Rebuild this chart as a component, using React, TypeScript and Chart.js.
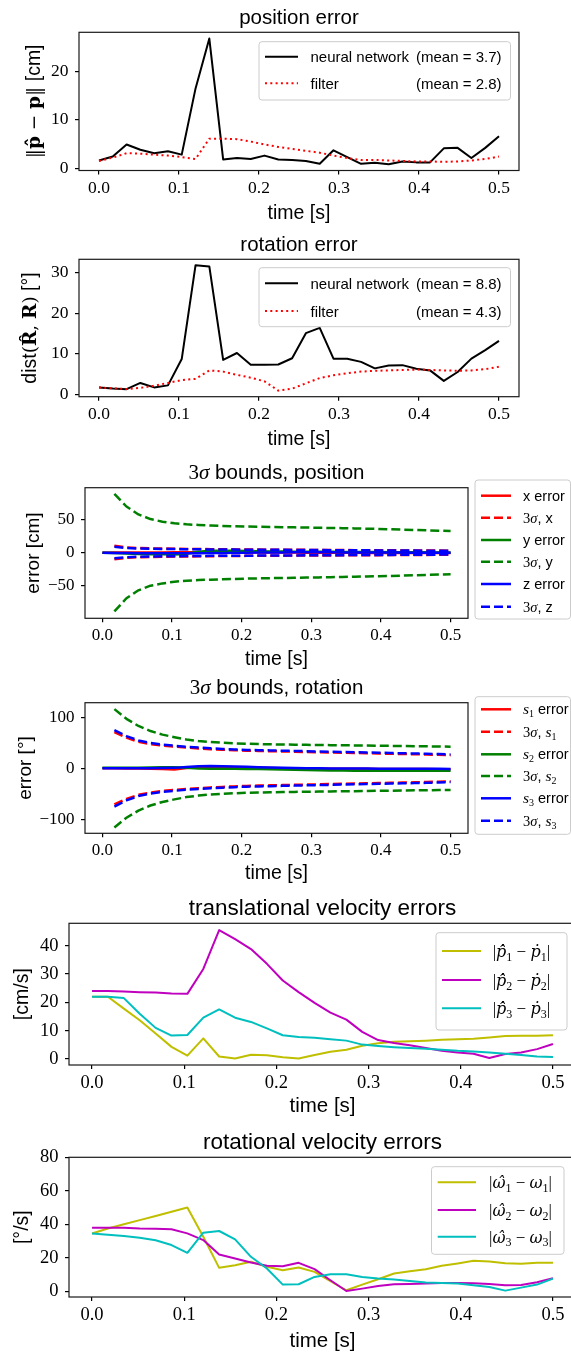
import React, { useEffect, useRef } from 'react';
import Chart from 'chart.js/auto';

// ---------------- data ----------------
const TIME = [0, 0.0172, 0.0345, 0.0517, 0.069, 0.0862, 0.1034, 0.1207, 0.1379, 0.1552, 0.1724, 0.1897, 0.2069, 0.2241, 0.2414, 0.2586, 0.2759, 0.2931, 0.3103, 0.3276, 0.3448, 0.3621, 0.3793, 0.3966, 0.4138, 0.431, 0.4483, 0.4655, 0.4828, 0.5];
const X_TICKS = [0, 0.1, 0.2, 0.3, 0.4, 0.5];

const POS_NN = [1.6, 2.4, 4.9, 3.8, 3.1, 3.5, 2.8, 16.5, 26.8, 1.8, 2.1, 1.9, 2.6, 1.8, 1.7, 1.5, 0.9, 3.7, 2.3, 0.9, 1.1, 0.8, 1.4, 1.2, 1.2, 4.1, 4.2, 2.1, 4.2, 6.6];
const POS_FILTER = [1.5, 2.2, 3.1, 3.0, 2.8, 2.6, 2.3, 1.9, 6.1, 6.1, 6.0, 5.5, 4.9, 4.4, 4.0, 3.6, 3.2, 2.6, 2.1, 1.7, 1.7, 1.6, 1.5, 1.4, 1.4, 1.3, 1.4, 1.6, 1.9, 2.4];
const POS_MEANS = ['3.7', '2.8'];
const POS_Y_TICKS = [0, 10, 20];

const ROT_NN = [1.65, 1.4, 1.25, 2.8, 1.7, 2.2, 8.7, 31.9, 31.6, 8.5, 10.2, 7.3, 7.3, 7.35, 8.9, 15.1, 16.4, 8.8, 8.8, 8.0, 6.4, 7.1, 7.2, 6.3, 5.9, 3.3, 5.5, 8.8, 10.9, 13.2];
const ROT_FILTER = [1.7, 1.45, 1.3, 1.6, 2.1, 2.8, 3.5, 3.8, 5.9, 5.6, 4.8, 4.1, 3.2, 0.9, 1.4, 2.7, 4.0, 4.7, 5.2, 5.6, 5.8, 5.9, 6.0, 6.1, 6.0, 5.9, 5.8, 5.9, 6.2, 6.8];
const ROT_MEANS = ['8.8', '4.3'];
const ROT_Y_TICKS = [0, 10, 20, 30];

const METHOD_LABELS = ['neural network', 'filter'];

// 3-sigma position (errors on all 30 steps, bounds from step 1)
const POS_ERR_X = [0, 0.2, 0.3, 0.3, 0.4, 0.4, 0.5, 0.5, 0.6, 0.6, 0.6, 0.5, 0.5, 0.4, 0.4, 0.3, 0.2, 0.1, 0.0, -0.1, -0.2, -0.2, -0.3, -0.3, -0.4, -0.4, -0.5, -0.5, -0.6, -0.6];
const POS_ERR_Y = [0, -0.6, -1.2, -1.8, -2.2, -2.5, -2.6, -1.5, 1.5, 2.8, 3.0, 2.8, 2.5, 2.2, 2.0, 1.8, 1.6, 1.5, 1.4, 1.3, 1.2, 1.1, 1.0, 0.9, 0.8, 0.7, 0.6, 0.5, 0.4, 0.3];
const POS_ERR_Z = [0, -0.3, -0.5, -0.7, -0.8, -0.9, -1.0, -0.9, -0.7, -0.5, -0.3, -0.1, 0.0, 0.2, 0.3, 0.4, 0.5, 0.5, 0.5, 0.5, 0.4, 0.4, 0.3, 0.3, 0.2, 0.2, 0.1, 0.1, 0.0, 0.0];
const POS_3S_X_UP = [10.5, 8.0, 7.0, 6.6, 6.3, 6.0, 5.8, 5.6, 5.4, 5.2, 5.0, 4.9, 4.7, 4.6, 4.5, 4.4, 4.3, 4.2, 4.1, 4.0, 3.9, 3.8, 3.7, 3.6, 3.5, 3.4, 3.3, 3.2, 3.1];
const POS_3S_X_LO = [-10.0, -7.8, -6.9, -6.5, -6.2, -5.9, -5.7, -5.5, -5.3, -5.1, -5.0, -4.8, -4.7, -4.6, -4.5, -4.4, -4.3, -4.2, -4.1, -4.0, -3.9, -3.8, -3.7, -3.6, -3.5, -3.4, -3.3, -3.2, -3.1];
const POS_3S_Y_UP = [89, 70, 58, 51, 47, 44.5, 43, 42, 41.2, 40.6, 40.1, 39.7, 39.3, 39, 38.7, 38.4, 38.1, 37.8, 37.5, 37.2, 36.8, 36.4, 36, 35.5, 35, 34.5, 34, 33.4, 32.8];
const POS_3S_Y_LO = [-89, -69, -57, -50, -46.5, -44, -42.5, -41.5, -40.8, -40.2, -39.7, -39.3, -38.9, -38.6, -38.3, -38, -37.7, -37.4, -37.1, -36.8, -36.4, -36, -35.6, -35.2, -34.7, -34.2, -33.7, -33.2, -32.6];
const POS_3S_Z_UP = [9.0, 7.0, 6.3, 6.0, 5.7, 5.5, 5.3, 5.1, 4.9, 4.8, 4.7, 4.6, 4.5, 4.4, 4.3, 4.2, 4.1, 4.0, 3.9, 3.8, 3.7, 3.6, 3.5, 3.4, 3.3, 3.2, 3.1, 3.0, 2.9];
const POS_3S_Z_LO = [-8.5, -6.8, -6.1, -5.8, -5.5, -5.3, -5.1, -4.9, -4.8, -4.7, -4.6, -4.5, -4.4, -4.3, -4.2, -4.1, -4.0, -3.9, -3.8, -3.7, -3.6, -3.5, -3.4, -3.3, -3.2, -3.1, -3.0, -2.9, -2.8];
const POSB_Y_TICKS = [-50, 0, 50];

// 3-sigma rotation
const ROT_ERR_S1 = [0, 0, -0.3, -0.6, -1.0, -1.5, -2.2, 0.5, 2.0, 2.5, 2.3, 2.0, 1.5, 1.0, 0.5, 0.2, 0, -0.3, -0.5, -0.7, -0.9, -1.0, -1.1, -1.2, -1.3, -1.4, -1.5, -1.6, -1.7, -1.8];
const ROT_ERR_S2 = [1.0, 1.0, 1.0, 1.2, 1.5, 1.8, 2.0, 1.0, -0.5, -1.0, -1.0, -1.0, -1.2, -1.5, -2.0, -2.5, -3.0, -3.5, -4.0, -4.3, -4.5, -4.7, -4.8, -4.9, -5.0, -5.0, -5.0, -5.0, -5.0, -5.0];
const ROT_ERR_S3 = [0, 0, 0, 0, 0.2, 0.5, 0.8, 2.5, 4.0, 4.5, 4.0, 3.5, 2.8, 2.0, 1.5, 1.0, 0.6, 0.3, 0, -0.2, -0.4, -0.5, -0.6, -0.7, -0.8, -0.9, -1.0, -1.0, -1.1, -1.2];
const ROT_3S_S1_UP = [71, 60, 52, 47.5, 44.5, 42.5, 40.5, 39, 37.5, 36.5, 35.5, 34.5, 34, 33.5, 33, 32.5, 32, 31.5, 31, 30.5, 30, 29.5, 29, 28.5, 28, 27.5, 27, 26.3, 25.5];
const ROT_3S_S1_LO = [-71, -60, -52, -47.5, -44.5, -42.5, -40.5, -39, -37.5, -36.5, -35.5, -34.5, -34, -33.5, -33, -32.5, -32, -31.5, -31, -30.5, -30, -29.5, -29, -28.5, -28, -27.5, -27, -26.3, -25.5];
const ROT_3S_S2_UP = [116, 97, 83, 73, 66, 61, 56.5, 53.5, 51.5, 50, 49, 48, 47.5, 47, 46.6, 46.3, 46, 45.7, 45.4, 45.1, 44.8, 44.5, 44.2, 43.9, 43.6, 43.3, 43, 42.7, 42.4];
const ROT_3S_S2_LO = [-116, -97, -83, -73, -66, -61, -56.5, -53.5, -51.5, -50, -49, -48, -47.5, -47, -46.6, -46.3, -46, -45.7, -45.4, -45.1, -44.8, -44.5, -44.2, -43.9, -43.6, -43.3, -43, -42.7, -42.4];
const ROT_3S_S3_UP = [75, 63, 54.5, 49.5, 46.3, 44.2, 42.2, 40.6, 39.1, 38, 37, 36, 35.5, 35, 34.5, 34, 33.5, 33, 32.5, 32, 31.5, 31, 30.5, 30, 29.5, 29, 28.5, 27.8, 27];
const ROT_3S_S3_LO = [-75, -63, -54.5, -49.5, -46.3, -44.2, -42.2, -40.6, -39.1, -38, -37, -36, -35.5, -35, -34.5, -34, -33.5, -33, -32.5, -32, -31.5, -31, -30.5, -30, -29.5, -29, -28.5, -27.8, -27];
const ROTB_Y_TICKS = [-100, 0, 100];

// velocity errors
const TV_P1 = [22, 22, 17.8, 13.7, 9.0, 4.3, 1.2, 7.3, 0.9, 0.2, 1.5, 1.3, 0.6, 0.2, 1.4, 2.6, 3.3, 4.7, 5.6, 6.1, 6.3, 6.5, 6.8, 7.0, 7.2, 7.6, 8.1, 8.2, 8.2, 8.4];
const TV_P2 = [24, 24, 23.8, 23.6, 23.5, 23.1, 23.0, 31.8, 45.5, 42.3, 38.8, 33.6, 27.7, 23.6, 19.8, 16.4, 13.9, 9.6, 6.7, 5.7, 4.9, 3.9, 2.9, 2.3, 1.9, 0.35, 1.8, 2.3, 3.5, 5.3];
const TV_P3 = [22, 22, 21.5, 16, 11, 8.3, 8.5, 14.6, 17.5, 14.6, 13.1, 10.8, 8.4, 7.8, 7.5, 7.0, 6.5, 5.1, 4.6, 4.2, 3.9, 3.6, 3.3, 2.9, 2.7, 2.3, 1.9, 1.4, 0.9, 0.7];
const TV_Y_TICKS = [0, 10, 20, 30, 40];

const RV_W1 = [34.5, 37.5, 40, 42.5, 45, 47.5, 50, 32.6, 14, 15.6, 17.6, 14.6, 12.6, 14.2, 11.6, 6, 0.6, 4, 7.2, 10.6, 12, 13.2, 15.2, 16.6, 18.2, 17.8, 16.8, 16.4, 17, 17];
const RV_W2 = [38, 38, 38, 37.5, 37.3, 37, 34.6, 30.6, 22, 19.6, 17.2, 15.2, 15, 17, 13.2, 6.6, 0.2, 1.6, 3.2, 4.2, 4.4, 4.6, 5, 5, 4.8, 4.4, 3.6, 3.8, 5.4, 7.8];
const RV_W3 = [34.5, 33.8, 33, 32, 30.5, 27.6, 23, 35, 36, 31, 20.6, 13.6, 4, 4.2, 8.6, 10.2, 10.2, 8.6, 7.6, 7, 6.2, 5.2, 5, 4.6, 3.6, 2.6, 0.4, 2.2, 4, 7.6];
const RV_Y_TICKS = [0, 20, 40, 60, 80];

// ---------------- style ----------------
const SANS = '"Liberation Sans", Arial, sans-serif';
const SERIF = '"Liberation Serif", "Times New Roman", serif';
const MATH = '"DejaVu Serif", serif';
const fnt = (size: number, fam: string, style = '') => (style ? style + ' ' : '') + size + 'px ' + fam;

const RED = '#ff0000', GREEN = '#008000', BLUE = '#0000ff';
const C_Y = '#bfbf00', C_M = '#bf00bf', C_C = '#00bfbf';

type Seg = { t: string; f: string; dy?: number };
type Row = { y: number; color: string; lw: number; dash?: number[]; segs: Seg[]; right?: Seg[] };
type Legend = { box: [number, number, number, number]; hx0: number; hx1: number; tx: number; rx?: number; base: number; rows: Row[] };
type Panel = {
  top: number; height: number; width: number;
  area: { l: number; r: number; t: number; b: number };
  yMin: number; yMax: number; yTicks: number[]; tickSize: number;
  datasets: any[];
  title: Seg[]; ylabel: Seg[]; ylabelX: number; xlabelY: number; xlabelSize: number;
  legend: Legend;
};

const YW = 60;
const XH = 30;

let orderCounter = 0;
function series(xs: number[], ys: number[], color: string, lw: number, dash?: number[]) {
  orderCounter -= 1;
  return {
    data: ys.map((y, i) => ({ x: xs[i], y })),
    borderColor: color, backgroundColor: color, borderWidth: lw, borderDash: dash || [],
    pointRadius: 0, pointHoverRadius: 0, fill: false, tension: 0, order: orderCounter,
    borderJoinStyle: 'round', borderCapStyle: 'butt',
  };
}
const TB = TIME.slice(1);

const DOT = [2, 3.3];
const DASH3 = [9, 4];

function meanSeg(m: string, fs: number): Seg[] { return [{ t: '(mean = ' + m + ')', f: fnt(fs, SANS) }]; }
function s(t: string, f: string, dy?: number): Seg { return { t, f, dy }; }
function sub(fs: number, n: string): Seg { return { t: n, f: fnt(Math.round(fs * 0.7), SERIF), dy: fs * 0.22 }; }

function buildPanels(): Panel[] {
  const LF1 = 15;
  orderCounter = 0;
  const p1: Panel = {
    top: 0, height: 225, width: 571,
    area: { l: 79, r: 519, t: 32.3, b: 170.5 },
    yMin: -0.48, yMax: 28.1, yTicks: POS_Y_TICKS, tickSize: 17.5,
    datasets: [series(TIME, POS_NN, '#000000', 2), series(TIME, POS_FILTER, RED, 2, DOT)],
    title: [s('position error', fnt(20.5, SANS))],
    ylabel: [s('‖', fnt(18.5, MATH)), s('p\u0302', fnt(18.5, MATH, 'bold')), s(' − ', fnt(18.5, MATH)), s('p', fnt(18.5, MATH, 'bold')), s('‖', fnt(18.5, MATH)), s(' [cm]', fnt(19.5, SANS))],
    ylabelX: 40, xlabelY: 219, xlabelSize: 19.5,
    legend: {
      box: [259, 41.7, 510.5, 100], hx0: 265, hx1: 298, tx: 310.5, rx: 501.5, base: 5.5,
      rows: [
        { y: 56.7, color: '#000', lw: 2, segs: [s(METHOD_LABELS[0], fnt(LF1, SANS))], right: meanSeg(POS_MEANS[0], LF1) },
        { y: 83.3, color: RED, lw: 2, dash: DOT, segs: [s(METHOD_LABELS[1], fnt(LF1, SANS))], right: meanSeg(POS_MEANS[1], LF1) },
      ],
    },
  };
  orderCounter = 0;
  const p2: Panel = {
    top: 225, height: 227, width: 571,
    area: { l: 79, r: 519, t: 259.3, b: 396.7 },
    yMin: -0.6, yMax: 33.35, yTicks: ROT_Y_TICKS, tickSize: 17.5,
    datasets: [series(TIME, ROT_NN, '#000000', 2), series(TIME, ROT_FILTER, RED, 2, DOT)],
    title: [s('rotation error', fnt(20.5, SANS))],
    ylabel: [s('dist', fnt(19.5, SANS)), s('(', fnt(18.5, MATH)), s('R\u0302', fnt(18.5, MATH, 'bold')), s(', ', fnt(18.5, MATH)), s('R', fnt(18.5, MATH, 'bold')), s(')', fnt(18.5, MATH)), s(' [°]', fnt(19.5, SANS))],
    ylabelX: 36, xlabelY: 445, xlabelSize: 19.5,
    legend: {
      box: [259, 267.7, 510.5, 326.7], hx0: 265, hx1: 298, tx: 310.5, rx: 501.5, base: 5.5,
      rows: [
        { y: 283.3, color: '#000', lw: 2, segs: [s(METHOD_LABELS[0], fnt(LF1, SANS))], right: meanSeg(ROT_MEANS[0], LF1) },
        { y: 311, color: RED, lw: 2, dash: DOT, segs: [s(METHOD_LABELS[1], fnt(LF1, SANS))], right: meanSeg(ROT_MEANS[1], LF1) },
      ],
    },
  };
  orderCounter = 0;
  const LF3 = 14.5;
  const sig = (fs: number): Seg[] => [s('3', fnt(fs, SERIF)), s('σ', fnt(fs, SERIF, 'italic'))];
  const p3: Panel = {
    top: 452, height: 220, width: 571,
    area: { l: 85, r: 468, t: 487.7, b: 618.3 },
    yMin: -99.4, yMax: 98.5, yTicks: POSB_Y_TICKS, tickSize: 17,
    datasets: [
      series(TIME, POS_ERR_X, RED, 2.5), series(TB, POS_3S_X_UP, RED, 2.5, DASH3), series(TB, POS_3S_X_LO, RED, 2.5, DASH3),
      series(TIME, POS_ERR_Y, GREEN, 2.5), series(TB, POS_3S_Y_UP, GREEN, 2.5, DASH3), series(TB, POS_3S_Y_LO, GREEN, 2.5, DASH3),
      series(TIME, POS_ERR_Z, BLUE, 2.5), series(TB, POS_3S_Z_UP, BLUE, 2.5, DASH3), series(TB, POS_3S_Z_LO, BLUE, 2.5, DASH3),
    ],
    title: [...sig(21), s(' bounds, position', fnt(20.5, SANS))],
    ylabel: [s('error [cm]', fnt(19, SANS))],
    ylabelX: 38.5, xlabelY: 665, xlabelSize: 19.5,
    legend: {
      box: [475, 480, 570.5, 619], hx0: 481, hx1: 511, tx: 523, base: 5,
      rows: [
        { y: 495.7, color: RED, lw: 2.5, segs: [s('x error', fnt(LF3, SANS))] },
        { y: 517.7, color: RED, lw: 2.5, dash: DASH3, segs: [...sig(LF3), s(', x', fnt(LF3, SANS))] },
        { y: 540, color: GREEN, lw: 2.5, segs: [s('y error', fnt(LF3, SANS))] },
        { y: 561.7, color: GREEN, lw: 2.5, dash: DASH3, segs: [...sig(LF3), s(', y', fnt(LF3, SANS))] },
        { y: 584, color: BLUE, lw: 2.5, segs: [s('z error', fnt(LF3, SANS))] },
        { y: 606.7, color: BLUE, lw: 2.5, dash: DASH3, segs: [...sig(LF3), s(', z', fnt(LF3, SANS))] },
      ],
    },
  };
  orderCounter = 0;
  const sv = (n: string): Seg[] => [s('s', fnt(LF3 + 1, SERIF, 'italic')), sub(LF3, n)];
  const p4: Panel = {
    top: 672, height: 218, width: 571,
    area: { l: 85, r: 468, t: 702.7, b: 833.3 },
    yMin: -127.5, yMax: 128.6, yTicks: ROTB_Y_TICKS, tickSize: 17,
    datasets: [
      series(TIME, ROT_ERR_S1, RED, 2.5), series(TB, ROT_3S_S1_UP, RED, 2.5, DASH3), series(TB, ROT_3S_S1_LO, RED, 2.5, DASH3),
      series(TIME, ROT_ERR_S2, GREEN, 2.5), series(TB, ROT_3S_S2_UP, GREEN, 2.5, DASH3), series(TB, ROT_3S_S2_LO, GREEN, 2.5, DASH3),
      series(TIME, ROT_ERR_S3, BLUE, 2.5), series(TB, ROT_3S_S3_UP, BLUE, 2.5, DASH3), series(TB, ROT_3S_S3_LO, BLUE, 2.5, DASH3),
    ],
    title: [...sig(21), s(' bounds, rotation', fnt(20.5, SANS))],
    ylabel: [s('error [°]', fnt(19, SANS))],
    ylabelX: 31, xlabelY: 879, xlabelSize: 19.5,
    legend: {
      box: [475, 696.7, 570.5, 834.3], hx0: 481, hx1: 511, tx: 523, base: 5,
      rows: [
        { y: 709.3, color: RED, lw: 2.5, segs: [...sv('1'), s(' error', fnt(LF3, SANS))] },
        { y: 731.7, color: RED, lw: 2.5, dash: DASH3, segs: [...sig(LF3), s(', ', fnt(LF3, SANS)), ...sv('1')] },
        { y: 754.3, color: GREEN, lw: 2.5, segs: [...sv('2'), s(' error', fnt(LF3, SANS))] },
        { y: 776, color: GREEN, lw: 2.5, dash: DASH3, segs: [...sig(LF3), s(', ', fnt(LF3, SANS)), ...sv('2')] },
        { y: 798.3, color: BLUE, lw: 2.5, segs: [...sv('3'), s(' error', fnt(LF3, SANS))] },
        { y: 820.7, color: BLUE, lw: 2.5, dash: DASH3, segs: [...sig(LF3), s(', ', fnt(LF3, SANS)), ...sv('3')] },
      ],
    },
  };
  orderCounter = 0;
  const LF5 = 17;
  const pdot = (n: string): Seg[] => [
    s('|', fnt(LF5, SERIF)), s('p\u0307\u0302', fnt(LF5 - 1, MATH, 'italic')), sub(LF5, n), s(' − ', fnt(LF5, SERIF)),
    s('p\u0307', fnt(LF5 - 1, MATH, 'italic')), sub(LF5, n), s('|', fnt(LF5, SERIF)),
  ];
  const p5: Panel = {
    top: 890, height: 230, width: 590,
    area: { l: 69, r: 576, t: 923.3, b: 1065 },
    yMin: -2.1, yMax: 47.9, yTicks: TV_Y_TICKS, tickSize: 18.5,
    datasets: [series(TIME, TV_P1, C_Y, 2), series(TIME, TV_P2, C_M, 2), series(TIME, TV_P3, C_C, 2)],
    title: [s('translational velocity errors', fnt(22.5, SANS))],
    ylabel: [s('[cm/s]', fnt(19.5, SANS))],
    ylabelX: 28, xlabelY: 1112, xlabelSize: 20.5,
    legend: {
      box: [436, 932.7, 567, 1030], hx0: 442, hx1: 481, tx: 492.7, base: 6,
      rows: [
        { y: 951, color: C_Y, lw: 2, segs: pdot('1') },
        { y: 980, color: C_M, lw: 2, segs: pdot('2') },
        { y: 1008.3, color: C_C, lw: 2, segs: pdot('3') },
      ],
    },
  };
  orderCounter = 0;
  const wv = (n: string): Seg[] => [
    s('|', fnt(LF5, SERIF)), s('ω\u0302', fnt(LF5 - 1, MATH, 'italic')), sub(LF5, n), s(' − ', fnt(LF5, SERIF)),
    s('ω', fnt(LF5 - 1, MATH, 'italic')), sub(LF5, n), s('|', fnt(LF5, SERIF)),
  ];
  const p6: Panel = {
    top: 1120, height: 233, width: 590,
    area: { l: 69, r: 576, t: 1157.3, b: 1297 },
    yMin: -3.4, yMax: 80, yTicks: RV_Y_TICKS, tickSize: 18.5,
    datasets: [series(TIME, RV_W1, C_Y, 2), series(TIME, RV_W2, C_M, 2), series(TIME, RV_W3, C_C, 2)],
    title: [s('rotational velocity errors', fnt(22.5, SANS))],
    ylabel: [s('[°/s]', fnt(19.5, SANS))],
    ylabelX: 28, xlabelY: 1347, xlabelSize: 20.5,
    legend: {
      box: [431.5, 1166.7, 564, 1254.3], hx0: 437.7, hx1: 476, tx: 489, base: 6,
      rows: [
        { y: 1182.3, color: C_Y, lw: 2, segs: wv('1') },
        { y: 1210, color: C_M, lw: 2, segs: wv('2') },
        { y: 1236.7, color: C_C, lw: 2, segs: wv('3') },
      ],
    },
  };
  return [p1, p2, p3, p4, p5, p6];
}

function drawRich(ctx: CanvasRenderingContext2D, segs: Seg[], x: number, y: number, align: 'left' | 'center' | 'right') {
  let w = 0;
  for (const g of segs) { ctx.font = g.f; w += ctx.measureText(g.t).width; }
  let cx = align === 'left' ? x : align === 'center' ? x - w / 2 : x - w;
  ctx.textAlign = 'left';
  ctx.textBaseline = 'alphabetic';
  for (const g of segs) {
    ctx.font = g.f;
    ctx.fillText(g.t, cx, y + (g.dy || 0));
    cx += ctx.measureText(g.t).width;
  }
}

function makeConfig(p: Panel): any {
  const oy = p.top;
  const deco = {
    id: 'deco' + p.top,
    afterDraw(chart: any) {
      const ctx: CanvasRenderingContext2D = chart.ctx;
      const { left, right, top, bottom } = chart.chartArea;
      ctx.save();
      ctx.strokeStyle = '#1a1a1a';
      ctx.lineWidth = 1.2;
      ctx.setLineDash([]);
      ctx.strokeRect(left, top, right - left, bottom - top);
      ctx.fillStyle = '#000';
      drawRich(ctx, p.title, (left + right) / 2, top - 8.5, 'center');
      drawRich(ctx, [{ t: 'time [s]', f: fnt(p.xlabelSize, SANS) }], (left + right) / 2, p.xlabelY - oy, 'center');
      ctx.save();
      ctx.translate(p.ylabelX, (top + bottom) / 2);
      ctx.rotate(-Math.PI / 2);
      drawRich(ctx, p.ylabel, 0, 0, 'center');
      ctx.restore();
      const L = p.legend;
      const [x0, y0, x1, y1] = L.box;
      ctx.beginPath();
      (ctx as any).roundRect(x0, y0 - oy, x1 - x0, y1 - y0, 3);
      ctx.fillStyle = 'rgba(255,255,255,0.8)';
      ctx.fill();
      ctx.strokeStyle = '#cccccc';
      ctx.lineWidth = 1;
      ctx.stroke();
      for (const r of L.rows) {
        ctx.beginPath();
        ctx.setLineDash(r.dash || []);
        ctx.strokeStyle = r.color;
        ctx.lineWidth = r.lw;
        ctx.lineCap = 'butt';
        ctx.moveTo(L.hx0, r.y - oy);
        ctx.lineTo(L.hx1, r.y - oy);
        ctx.stroke();
        ctx.setLineDash([]);
        ctx.fillStyle = '#000';
        drawRich(ctx, r.segs, L.tx, r.y - oy + L.base, 'left');
        if (r.right && L.rx) drawRich(ctx, r.right, L.rx, r.y - oy + L.base, 'right');
      }
      ctx.restore();
    },
  };
  const grid = { drawOnChartArea: false, drawTicks: true, tickLength: 4, color: '#000', lineWidth: 1.2 };
  return {
    type: 'line',
    data: { datasets: p.datasets },
    options: {
      animation: false,
      responsive: false,
      events: [],
      layout: {
        autoPadding: false,
        padding: {
          left: p.area.l - YW,
          right: p.width - p.area.r,
          top: p.area.t - p.top,
          bottom: p.top + p.height - p.area.b - XH,
        },
      },
      plugins: { legend: { display: false }, title: { display: false }, tooltip: { enabled: false } },
      scales: {
        x: {
          type: 'linear', position: 'bottom', min: -0.025, max: 0.525,
          afterBuildTicks: (sc: any) => { sc.ticks = X_TICKS.map((v) => ({ value: v })); },
          afterFit: (sc: any) => { sc.height = XH; },
          grid, border: { display: false },
          ticks: {
            autoSkip: false, maxRotation: 0, padding: 3.5, color: '#000',
            font: { family: SERIF, size: p.tickSize },
            callback: (v: any) => Number(v).toFixed(1),
          },
        },
        y: {
          type: 'linear', position: 'left', min: p.yMin, max: p.yMax,
          afterBuildTicks: (sc: any) => { sc.ticks = p.yTicks.map((v) => ({ value: v })); },
          afterFit: (sc: any) => { sc.width = YW; },
          grid, border: { display: false },
          ticks: {
            autoSkip: false, padding: 6.5, color: '#000',
            font: { family: SERIF, size: p.tickSize },
            callback: (v: any) => (Number(v) < 0 ? '\u2212' + Math.abs(Number(v)) : String(v)),
          },
        },
      },
    },
    plugins: [deco],
  };
}

const PANELS = buildPanels();

export default function App() {
  const refs = useRef<(HTMLCanvasElement | null)[]>([]);
  useEffect(() => {
    const charts = PANELS.map((p, i) => new Chart(refs.current[i] as HTMLCanvasElement, makeConfig(p)));
    return () => charts.forEach((c) => c.destroy());
  }, []);
  return (
    <div style={{ position: 'absolute', left: 0, top: 0, width: 571, height: 1353, overflow: 'hidden', background: '#fff' }}>
      {PANELS.map((p, i) => (
        <canvas
          key={i}
          ref={(el) => { refs.current[i] = el; }}
          width={p.width}
          height={p.height}
          style={{ position: 'absolute', left: 0, top: p.top, width: p.width, height: p.height }}
        />
      ))}
    </div>
  );
}
